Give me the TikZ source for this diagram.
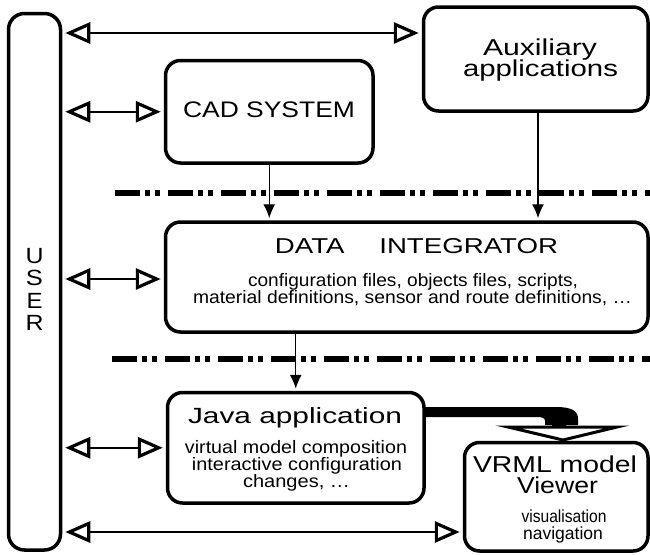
\documentclass[tikz,border=0pt]{standalone}
\usepackage{fontspec}
\setmainfont{Liberation Sans}
\usepackage{graphicx}
\usetikzlibrary{arrows.meta}
\newcommand\fw[3]{\resizebox{#2}{\height}{\fontsize{#1}{#1}\selectfont #3}}
\tikzset{
  box/.style={draw, line width=3.5pt, rounded corners=15pt, inner sep=0pt},
  txt/.style={anchor=base, inner sep=0pt},
  opentip/.tip={Triangle[open,length=25pt,width=21pt,line width=3.2pt]},
  dbl/.style={line width=2.2pt, opentip-opentip, shorten <=3pt, shorten >=3pt},
  dn/.style={line width=1.3pt, -{Latex[length=14pt,width=12pt]}, shorten >=2pt},
  sep/.style={line width=5.5pt, dash pattern=on 25pt off 5pt on 5pt off 5pt on 5pt off 8pt}
}
\begin{document}
\begin{tikzpicture}[x=1pt,y=-1pt]
\useasboundingbox (0,0) rectangle (650,554);

% separators
\draw[sep] (115,193) -- (650,193);
\draw[sep] (112,359) -- (650,359);

% boxes
\node[box, rounded corners=16pt, minimum width=52pt, minimum height=536.5pt] (user) at (34.5,281.75) {};
\node[box, minimum width=207.5pt, minimum height=102.5pt] (cad) at (269.25,111.75) {};
\node[box, minimum width=224.5pt, minimum height=104pt] (aux) at (535.75,59) {};
\node[box, minimum width=482.5pt, minimum height=110pt] (data) at (406.75,277) {};
\node[box, minimum width=256.5pt, minimum height=110.5pt] (java) at (295.75,447.75) {};
\node[box, minimum width=183.5pt, minimum height=108.5pt] (vrml) at (556.25,496.75) {};

% texts
\node[txt] (u1) at (34.5,263) {\fw{22}{18pt}{U}};
\node[txt] (u2) at (34.5,285.5) {\fw{22}{17pt}{S}};
\node[txt] (u3) at (34.5,308) {\fw{22}{16pt}{E}};
\node[txt] (u4) at (34.5,330.5) {\fw{22}{18pt}{R}};

\node[txt] (tcad) at (269,117) {\fw{22.5}{172pt}{CAD SYSTEM}};
\node[txt] (taux1) at (540,55) {\fw{23}{114pt}{Auxiliary}};
\node[txt] (taux2) at (540.5,76) {\fw{23}{155pt}{applications}};

\node[txt] (tdata) at (416.5,253) {\fw{21.5}{283pt}{DATA\hspace{27pt}INTEGRATOR}};
\node[txt] (td1) at (413,286) {\fw{18}{330pt}{configuration files, objects files, scripts,}};
\node[txt] (td2) at (412.5,303) {\fw{18}{439pt}{material definitions, sensor and route definitions, \ldots}};

\node[txt] (tjava) at (295,423) {\fw{22}{214pt}{Java application}};
\node[txt] (tj1) at (296,453) {\fw{18}{222pt}{virtual model composition}};
\node[txt] (tj2) at (297,470) {\fw{18}{210pt}{interactive configuration}};
\node[txt] (tj3) at (296.5,487) {\fw{18}{107pt}{changes, \ldots}};

\node[txt] (tv1) at (555,472) {\fw{23}{164pt}{VRML model}};
\node[txt] (tv2) at (557.5,493) {\fw{23}{81pt}{Viewer}};
\node[txt] (tv3) at (564,522) {\fw{17.5}{85pt}{visualisation}};
\node[txt] (tv4) at (563,539) {\fw{17.5}{80pt}{navigation}};

% double arrows with user
\coordinate (ya) at (0,33);
\coordinate (yd) at (0,279);
\coordinate (yv) at (0,532);
\draw[dbl] (user.east |- ya) -- (aux.west |- ya);
\draw[dbl] (user.east |- cad.west) -- (cad.west);
\draw[dbl] (user.east |- yd) -- (data.west |- yd);
\draw[dbl] (user.east |- java.west) -- (java.west);
\draw[dbl] (user.east |- yv) -- (vrml.west |- yv);

% downward arrows
\coordinate (ax) at (538,0);
\draw[dn] (cad.south) -- (cad.south |- data.north);
\draw[dn] (aux.south -| ax) -- (data.north -| ax);
\draw[dn] (data.south -| java.north) -- (java.north);

% thick arrow java -> vrml
\fill (424,407) -- (556,407) .. controls (572,407) and (578,411) .. (578,419)
  -- (578,425) -- (566,425) -- (566,428) -- (552,428) -- (552,425) -- (545,425)
  -- (545,421) .. controls (545,418) and (542,417) .. (538,417) -- (424,417) -- cycle;
\draw[line width=3pt, line join=miter, fill=white] (508,427) -- (617,427) -- (563,440) -- cycle;
\end{tikzpicture}
\end{document}
